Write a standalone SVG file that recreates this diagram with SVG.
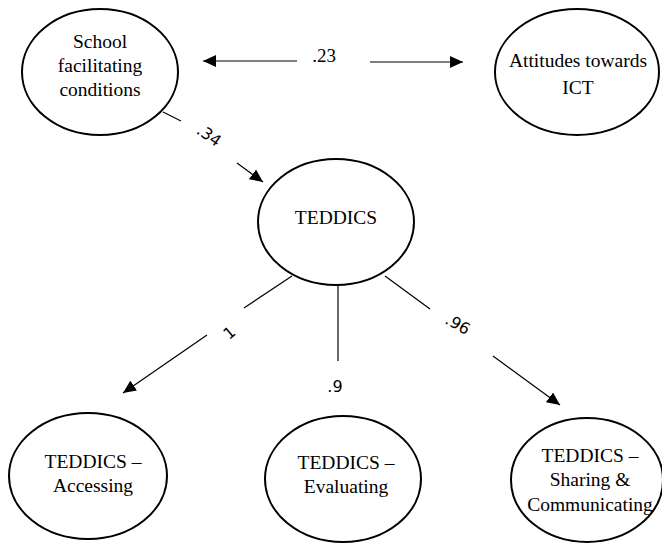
<svg xmlns="http://www.w3.org/2000/svg" width="662" height="543" viewBox="0 0 662 543">
<style>
.node{fill:#fff;stroke:#000;stroke-width:2}
.lbl{font-family:"Liberation Serif","Times New Roman",serif;font-size:19.5px;fill:#000;text-anchor:middle}
.num{font-family:"DejaVu Sans","Liberation Sans",sans-serif;font-size:16px;fill:#000;text-anchor:middle}
.numserif{font-family:"Liberation Serif",serif;font-size:19px;fill:#000;text-anchor:middle}
.edge{stroke:#000;stroke-width:1.2;fill:none}
</style>
<defs>
<marker id="ah" markerUnits="userSpaceOnUse" markerWidth="14" markerHeight="12" refX="13" refY="6" orient="auto">
<path d="M0,0 L13,6 L0,12 Z" fill="#000"/>
</marker>
</defs>
<rect width="662" height="543" fill="#fff"/>
<g id="connectors">
<line class="edge" x1="297" y1="61" x2="203" y2="61" marker-end="url(#ah)"/>
<line class="edge" x1="370" y1="62" x2="463" y2="62" marker-end="url(#ah)"/>
<line class="edge" x1="163" y1="112" x2="181" y2="121"/>
<line class="edge" x1="237" y1="163" x2="263" y2="182" marker-end="url(#ah)"/>
<line class="edge" x1="292" y1="276" x2="244" y2="308"/>
<line class="edge" x1="207" y1="335" x2="123" y2="393" marker-end="url(#ah)"/>
<line class="edge" x1="338" y1="285" x2="338" y2="361"/>
<line class="edge" x1="385" y1="276" x2="430" y2="309"/>
<line class="edge" x1="493" y1="356" x2="560" y2="405" marker-end="url(#ah)"/>
<text class="numserif" x="324" y="62">.23</text>
<text class="num" transform="translate(206,140) rotate(35)">.34</text>
<text class="num" transform="translate(233,337) rotate(-40)">1</text>
<text class="num" x="335" y="392">.9</text>
<text class="num" transform="translate(455,329) rotate(30)">.96</text>
</g>
<g id="school">
<ellipse class="node" cx="100" cy="72" rx="78" ry="63"/>
<text class="lbl" x="100" y="48">School</text>
<text class="lbl" x="100" y="72">facilitating</text>
<text class="lbl" x="100" y="96">conditions</text>
</g>
<g id="attitudes">
<ellipse class="node" cx="577" cy="72" rx="82" ry="63"/>
<text class="lbl" x="578" y="67">Attitudes towards</text>
<text class="lbl" x="578" y="94">ICT</text>
</g>
<g id="teddics">
<ellipse class="node" cx="336" cy="222" rx="78" ry="63"/>
<text class="lbl" x="336" y="224">TEDDICS</text>
</g>
<g id="accessing">
<ellipse class="node" cx="88" cy="476" rx="79" ry="63"/>
<text class="lbl" x="93" y="468">TEDDICS –</text>
<text class="lbl" x="93" y="492">Accessing</text>
</g>
<g id="evaluating">
<ellipse class="node" cx="343" cy="479" rx="78" ry="63"/>
<text class="lbl" x="346" y="469">TEDDICS –</text>
<text class="lbl" x="346" y="493">Evaluating</text>
</g>
<g id="sharing">
<ellipse class="node" cx="587" cy="480" rx="76" ry="62"/>
<text class="lbl" x="590" y="462">TEDDICS –</text>
<text class="lbl" x="590" y="486">Sharing &amp;</text>
<text class="lbl" x="590" y="511">Communicating</text>
</g>
</svg>
